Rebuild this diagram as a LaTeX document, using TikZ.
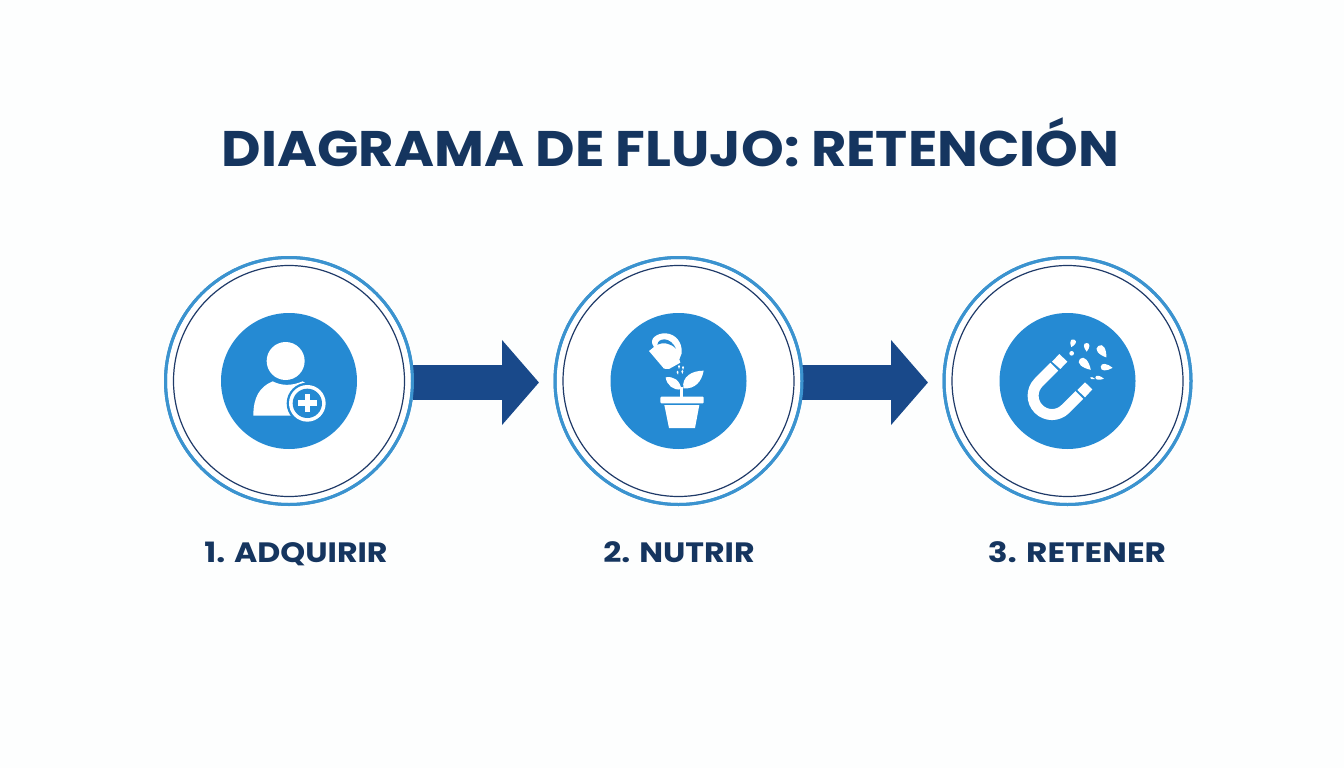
\documentclass[tikz,border=0pt]{standalone}
\usepackage{fontspec}
\setmainfont{Poppins}
\newfontfamily\titlefont[FakeStretch=1.087]{Poppins}
\newfontfamily\labelfont[FakeStretch=1.13]{Poppins}
\newfontfamily\labelfontwide[FakeStretch=1.17]{Poppins}
\usetikzlibrary{arrows.meta}
\definecolor{bgc}{HTML}{FDFEFE}
\definecolor{navy}{HTML}{15355F}
\definecolor{arrowc}{HTML}{19498A}
\definecolor{discc}{HTML}{258AD3}
\definecolor{ringc}{HTML}{3B93CF}
\definecolor{innerc}{HTML}{1F3A68}
\newcommand{\tear}[5]{\fill[white,shift={(#1,#2)},rotate=#3,xscale=#5,yscale=#4] (0,-1) .. controls (.9,-.1) and (1.1,1) .. (0,1) .. controls (-1.1,1) and (-.9,-.1) .. (0,-1) -- cycle;}
\tikzset{
  outerring/.style={circle,draw=ringc,line width=3pt,fill=white,minimum size=247pt,inner sep=0pt,outer sep=0pt},
  innerring/.style={circle,draw=innerc,line width=1.2pt,minimum size=231pt,inner sep=0pt},
  disc/.style={circle,fill=discc,minimum size=136pt,inner sep=0pt},
  flow/.style={draw=arrowc,line width=35pt,-{Triangle[length=37pt,width=83pt,color=arrowc]},shorten >=16pt},
  steplabel/.style={font=\labelfont\fontsize{28}{28}\selectfont\bfseries,text=navy,anchor=base},
  icon/.style={scale=0.33333}
}
\begin{document}
\begin{tikzpicture}[x=1pt,y=-1pt]
\useasboundingbox (0,0) rectangle (1344,768);
\fill[bgc] (0,0) rectangle (1344,768);
\node[font=\titlefont\fontsize{50}{50}\selectfont\bfseries,text=navy,anchor=base] (title) at (670.5,166) {DIAGRAMA DE FLUJO: RETENCIÓN};

\node[outerring] (c1) at (289,381) {};
\node[outerring] (c2) at (678.5,381) {};
\node[outerring] (c3) at (1067.5,381) {};
\draw[flow] ([yshift=-1.5pt]c1.east) -- ([yshift=-1.5pt]c2.west);
\draw[flow] ([yshift=-1.5pt]c2.east) -- ([yshift=-1.5pt]c3.west);
\node[outerring,fill=none] at (c1) {};
\node[outerring,fill=none] at (c2) {};
\node[outerring,fill=none] at (c3) {};
\node[innerring] (i1) at (c1) {};
\node[innerring] (i2) at (c2) {};
\node[innerring] (i3) at (c3) {};
\node[disc] (d1) at (c1) {};
\node[disc] (d2) at (c2) {};
\node[disc] (d3) at (c3) {};

\node[steplabel] (l1) at (296,562) {1. ADQUIRIR};
\node[steplabel] (l2) at (679,562) {2. NUTRIR};
\node[steplabel,font=\labelfontwide\fontsize{28}{28}\selectfont\bfseries] (l3) at (1077,562) {3. RETENER};

% person icon
\begin{scope}[shift={(150,240)},icon]
\fill[white] (407,363) circle (57);
\fill[white] (310,527) .. controls (310,470) and (330,440) .. (368,424)
  .. controls (395,438) and (425,438) .. (458,424) .. controls (490,440) and (505,480) .. (505,527) -- cycle;
\fill[discc] (472,490) circle (62);
\fill[white] (472,490) circle (55);
\fill[discc] (472,490) circle (44);
\fill[white] (445,481) rectangle (500,498);
\fill[white] (464,462) rectangle (481,517);
\end{scope}

% plant icon
\begin{scope}[shift={(600,300)},icon]
\fill[white,rounded corners=1pt] (181,290) rectangle (311,310);
\fill[white] (193,315) -- (298,315) -- (285,384) -- (207,384) -- cycle;
\fill[white] (241,292) -- (241,262) -- (250,262) -- (250,292) -- cycle;
\fill[white] (244,268) .. controls (240,240) and (220,228) .. (197,232) .. controls (200,255) and (220,272) .. (244,268) -- cycle;
\fill[white] (250,265) .. controls (245,230) and (275,212) .. (311,212) .. controls (305,245) and (285,268) .. (250,265) -- cycle;
\fill[white] (147,153) -- (162,141) .. controls (142,115) and (175,98) .. (198,100)
  .. controls (225,102) and (248,125) .. (245,160) -- (238,178) -- (241,188) -- (207,207) -- (192,206) -- cycle;
\fill[discc] (172,134) .. controls (175,112) and (212,110) .. (228,146) .. controls (212,130) and (190,125) .. (172,134) -- cycle;
\tear{237}{201}{180}{6}{4}
\tear{249}{204}{180}{6}{4}
\tear{233}{218}{190}{6}{4}
\tear{247}{216}{180}{6}{4}
\end{scope}

% magnet icon
\begin{scope}[shift={(990,300)},icon]
\draw[white,line width=11pt] (193,200) -- (146,247) .. controls (123.8,269.2) and (123.8,304.8) .. (146,327)
  .. controls (168.2,349.2) and (203.8,349.2) .. (226,327) -- (268,285);
\fill[white] (208,162) -- (232,185) -- (211,207) -- (186,185) -- cycle;
\fill[white] (285,247) -- (307,268) -- (285,292) -- (262,270) -- cycle;
\tear{248}{130}{160}{12}{11}
\fill[white] (245,160) circle (7);
\tear{290}{142}{180}{13}{11}
\tear{337}{155}{215}{21}{16}
\tear{286}{193}{225}{23}{16}
\tear{350}{202}{265}{18}{13}
\tear{329}{234}{260}{13}{8}
\tear{308}{235}{255}{8}{4}
\end{scope}
\end{tikzpicture}
\end{document}
